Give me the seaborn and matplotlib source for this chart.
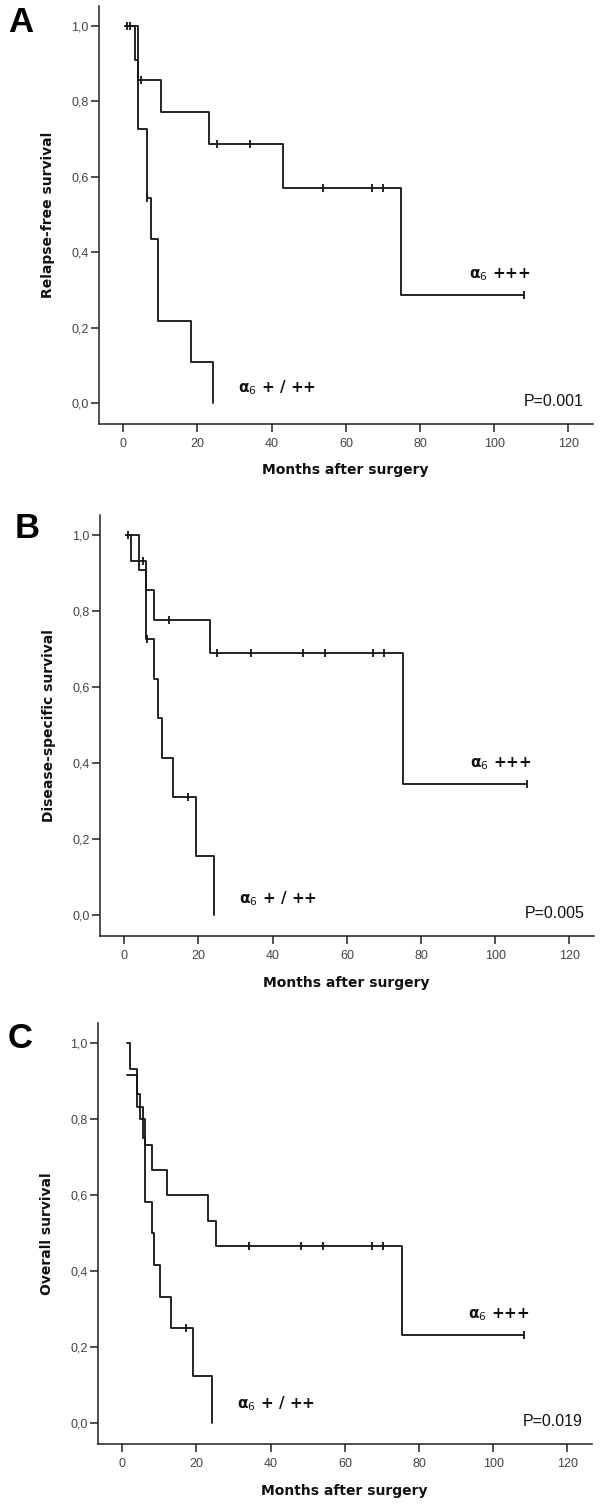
import matplotlib
matplotlib.use("Agg")
import matplotlib.pyplot as plt
import pandas as pd
import seaborn as sns

sns.set_theme(style="white")
plt.rcParams["font.family"] = ["DejaVu Sans"]

# ---- data (months, survival) ----
# Panel A: relapse-free survival
a_hi_time = [0.5, 4.0, 10.1, 23.1, 43.0, 74.8, 108.0]
a_hi_surv = [1.0, 0.857, 0.771, 0.686, 0.571, 0.286, 0.286]
a_hi_cens_time = [0.9, 1.8, 4.7, 25.2, 34.1, 53.9, 67.0, 69.9, 108.0]
a_hi_cens_surv = [1.0, 1.0, 0.857, 0.686, 0.686, 0.571, 0.571, 0.571, 0.286]
a_lo_time = [0.5, 3.2, 4.0, 6.3, 7.4, 9.3, 18.2, 24.3]
a_lo_surv = [1.0, 0.909, 0.727, 0.545, 0.436, 0.218, 0.109, 0.0]
a_lo_cens_time = [6.5]
a_lo_cens_surv = [0.545]

# Panel B: disease-specific survival
b_hi_time = [0.5, 1.8, 5.8, 8.1, 23.1, 75.2, 108.5]
b_hi_surv = [1.0, 0.933, 0.857, 0.778, 0.691, 0.346, 0.346]
b_hi_cens_time = [1.1, 5.0, 12.1, 25.1, 34.1, 48.2, 54.1, 67.1, 70.1, 108.5]
b_hi_cens_surv = [1.0, 0.933, 0.778, 0.691, 0.691, 0.691, 0.691, 0.691, 0.691, 0.346]
b_lo_time = [0.5, 4.0, 5.8, 8.0, 9.2, 10.1, 13.1, 19.2, 24.2]
b_lo_surv = [1.0, 0.909, 0.727, 0.623, 0.519, 0.415, 0.311, 0.156, 0.0]
b_lo_cens_time = [6.2, 17.1]
b_lo_cens_surv = [0.727, 0.311]

# Panel C: overall survival
c_hi_time = [1.2, 2.1, 4.0, 4.8, 6.1, 8.1, 12.1, 23.2, 25.3, 75.3, 108.3]
c_hi_surv = [1.0, 0.933, 0.867, 0.8, 0.733, 0.667, 0.6, 0.533, 0.467, 0.233, 0.233]
c_hi_cens_time = [34.2, 48.1, 54.2, 67.2, 70.2, 108.3]
c_hi_cens_surv = [0.467, 0.467, 0.467, 0.467, 0.467, 0.233]
c_lo_time = [1.2, 4.0, 5.7, 6.1, 8.1, 8.6, 10.2, 13.0, 19.0, 24.1]
c_lo_surv = [0.917, 0.833, 0.75, 0.583, 0.5, 0.417, 0.333, 0.25, 0.125, 0.0]
c_lo_cens_time = [17.2]
c_lo_cens_surv = [0.25]

panel_letters = ["A", "B", "C"]
y_titles = ["Relapse-free survival", "Disease-specific survival", "Overall survival"]
p_values = ["P=0.001", "P=0.005", "P=0.019"]
x_ticks = [0, 20, 40, 60, 80, 100, 120]
y_ticks = [0.0, 0.2, 0.4, 0.6, 0.8, 1.0]
y_tick_labels = ["0,0", "0,2", "0,4", "0,6", "0,8", "1,0"]

curves = [
    (a_hi_time, a_hi_surv, a_hi_cens_time, a_hi_cens_surv,
     a_lo_time, a_lo_surv, a_lo_cens_time, a_lo_cens_surv),
    (b_hi_time, b_hi_surv, b_hi_cens_time, b_hi_cens_surv,
     b_lo_time, b_lo_surv, b_lo_cens_time, b_lo_cens_surv),
    (c_hi_time, c_hi_surv, c_hi_cens_time, c_hi_cens_surv,
     c_lo_time, c_lo_surv, c_lo_cens_time, c_lo_cens_surv),
]

W, H = 602, 1508
fig = plt.figure(figsize=(W / 100, H / 100), dpi=100)


def px_rect(left, right, top, bottom):
    return [left / W, 1 - bottom / H, (right - left) / W, (bottom - top) / H]


# pixel boxes of the three plot areas
boxes = [(98.8, 592.6, 6.0, 423.7), (99.8, 593.6, 515.2, 936.2), (97.8, 591.6, 1023.2, 1444.2)]
letter_pos = [(20.5, 22.5), (27, 528), (20, 1039)]
lo_label_y = [0.04, 0.045, 0.053]
hi_label_y = [0.34, 0.40, 0.285]
line_col = "#141414"

for i, ax_box in enumerate(boxes):
    ax = fig.add_axes(px_rect(*ax_box))
    hi_t, hi_s, hi_ct, hi_cs, lo_t, lo_s, lo_ct, lo_cs = curves[i]

    df = pd.concat([
        pd.DataFrame({"time": hi_t, "surv": hi_s, "grp": "hi"}),
        pd.DataFrame({"time": lo_t, "surv": lo_s, "grp": "lo"}),
    ])
    for g in ["hi", "lo"]:
        sns.lineplot(data=df[df["grp"] == g], x="time", y="surv", estimator=None,
                     sort=False, drawstyle="steps-post", color=line_col,
                     linewidth=1.3, ax=ax)
    ax.plot(hi_ct, hi_cs, ls="none", marker="|", ms=5.5, mew=1.3, color=line_col)
    ax.plot(lo_ct, lo_cs, ls="none", marker="|", ms=5.5, mew=1.3, color=line_col)

    ax.set_xlim(-6.6, 126.5)
    ax.set_ylim(-0.055, 1.053)
    ax.set_xticks(x_ticks)
    ax.set_xticklabels([str(t) for t in x_ticks], family="Liberation Sans",
                       fontsize=9, color="#444444")
    ax.set_yticks(y_ticks)
    ax.set_yticklabels(y_tick_labels, family="Liberation Sans",
                       fontsize=9, color="#444444")
    ax.tick_params(axis="x", direction="out", length=6, width=1.1,
                   color="#222222", pad=4, bottom=True)
    ax.tick_params(axis="y", direction="out", length=6, width=1.1,
                   color="#222222", pad=1.5, left=True)
    for s in ["top", "right"]:
        ax.spines[s].set_visible(False)
    for s in ["left", "bottom"]:
        ax.spines[s].set_color("#222222")
        ax.spines[s].set_linewidth(1.1)

    ax.set_xlabel("Months after surgery", fontsize=10, fontweight="bold", color="#111111")
    ax.set_ylabel(y_titles[i], fontsize=10, fontweight="bold", color="#111111")
    ax.xaxis.set_label_coords(0.5, -0.095)
    ax.yaxis.set_label_coords(-0.088, 0.5)

    ax.text(101.5, hi_label_y[i], "α$_6$ +++", fontsize=11, fontweight="bold",
            ha="center", va="center", color="#111111")
    ax.text(41.5, lo_label_y[i], "α$_6$ + / ++", fontsize=11, fontweight="bold",
            ha="center", va="center", color="#111111")
    ax.text(124, 0.005, p_values[i], family="Liberation Sans", fontsize=11.5,
            ha="right", va="center", color="#111111")

    lx, ly = letter_pos[i]
    fig.text(lx / W, 1 - ly / H, panel_letters[i], family="Liberation Sans",
             fontsize=25, fontweight="bold", ha="center", va="center", color="black")

fig.savefig("out.png", dpi=100)
